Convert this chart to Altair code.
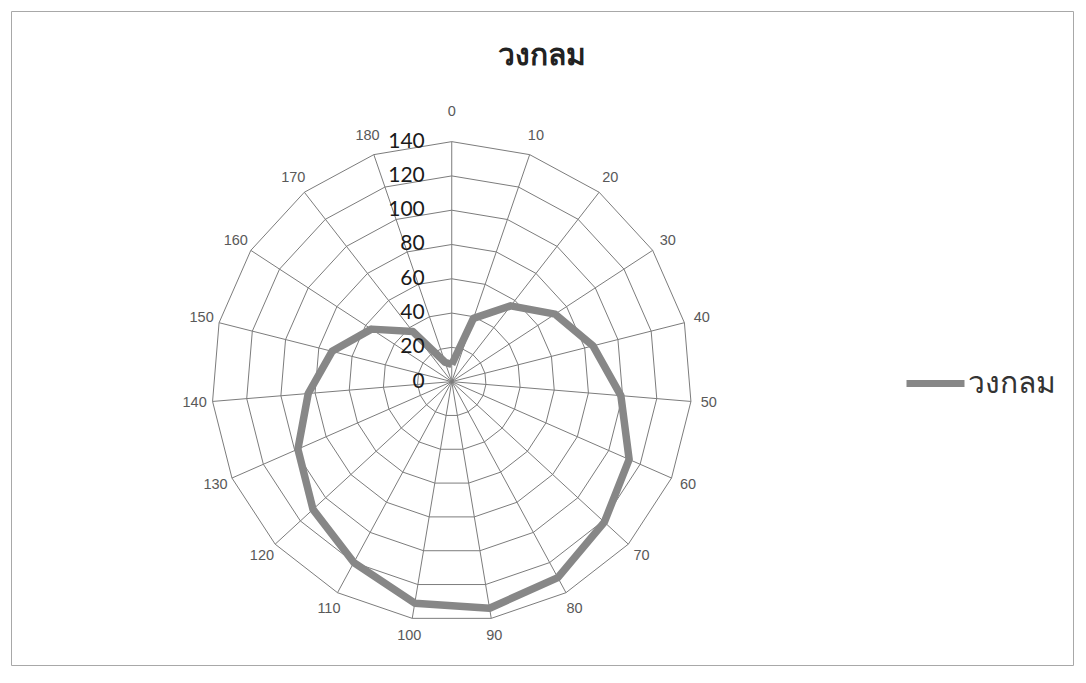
import altair as alt
import pandas as pd

# ---- data ----
categories = ["0", "10", "20", "30", "40", "50", "60", "70", "80", "90",
              "100", "110", "120", "130", "140", "150", "160", "170", "180"]
values = [10, 39, 56, 72, 85, 99, 113, 121, 130, 134,
          131, 120, 110, 98, 84, 72, 56, 37, 12]
ring_levels = [0, 20, 40, 60, 80, 100, 120, 140]
series_name = "วงกลม"
title_text = "วงกลม"

N = len(categories)
R_MAX = ring_levels[-1]

series_df = pd.DataFrame({
    "idx": list(range(N)) + [N],
    "value": values + [values[0]],
    "series": [series_name] * (N + 1),
})
grid_df = pd.DataFrame([{"level": l, "idx": i} for l in ring_levels[1:] for i in range(N + 1)])
spoke_df = pd.DataFrame({"idx": list(range(N)), "r": [R_MAX] * N})
label_df = pd.DataFrame({"idx": list(range(N)), "label": categories})
radial_df = pd.DataFrame({"level": ring_levels, "text": [str(l) for l in ring_levels]})

ANG = f"datum.idx * 2 * PI / {N}"

W, H = 1062, 654
x_scale = alt.Scale(domain=[-257.1, 362.4], nice=False, zero=False)
y_scale = alt.Scale(domain=[-165.3, 216.2], nice=False, zero=False)


def X(f):
    return alt.X(f"{f}:Q", scale=x_scale, axis=None)


def Y(f):
    return alt.Y(f"{f}:Q", scale=y_scale, axis=None)


GRID = "#7c7c7c"

rings = (
    alt.Chart(grid_df)
    .transform_calculate(a=ANG)
    .transform_calculate(x="datum.level * sin(datum.a)")
    .transform_calculate(y="datum.level * cos(datum.a)")
    .mark_line(color=GRID, strokeWidth=1)
    .encode(x=X("x"), y=Y("y"), detail="level:N", order="idx:Q")
)

spokes = (
    alt.Chart(spoke_df)
    .transform_calculate(a=ANG)
    .transform_calculate(x0="0")
    .transform_calculate(y0="0")
    .transform_calculate(x="datum.r * sin(datum.a)")
    .transform_calculate(y="datum.r * cos(datum.a)")
    .mark_rule(color=GRID, strokeWidth=1)
    .encode(x=X("x0"), y=Y("y0"), x2="x:Q", y2="y:Q")
)

series_line = (
    alt.Chart(series_df)
    .transform_calculate(a=ANG)
    .transform_calculate(x="datum.value * sin(datum.a)")
    .transform_calculate(y="datum.value * cos(datum.a)")
    .mark_line(strokeWidth=7.5, strokeJoin="round")
    .encode(
        x=X("x"), y=Y("y"), order="idx:Q",
        color=alt.Color(
            "series:N",
            scale=alt.Scale(range=["#878787"]),
            legend=alt.Legend(
                title=None, orient="none", legendX=892, legendY=340,
                symbolType="stroke", symbolStrokeWidth=7, symbolSize=3364,
                labelFontSize=30, labelFont="Noto Sans", labelColor="#333333",
                labelOffset=0, padding=0,
            ),
        ),
    )
)

labels = (
    alt.Chart(label_df)
    .transform_calculate(a=ANG)
    .transform_calculate(rl=f"{R_MAX} + 10.5 + 7 * pow(max(cos(datum.a), 0), 40)")
    .transform_calculate(x="datum.rl * sin(datum.a)")
    .transform_calculate(y="datum.rl * cos(datum.a)")
    .mark_text(font="Liberation Sans", fontSize=14.5, color="#595959",
               align="center", baseline="middle")
    .encode(x=X("x"), y=Y("y"), text="label:N")
)

radial = (
    alt.Chart(radial_df)
    .transform_calculate(x0="0")
    .mark_text(font="Lato", fontSize=21, color="#1a1a1a",
               align="right", baseline="middle", dx=-27)
    .encode(x=X("x0"), y=Y("level"), text="text:N")
)

chart = (
    alt.layer(rings, spokes, series_line, labels, radial)
    .properties(
        width=W, height=H,
        title=alt.TitleParams(
            title_text, anchor="middle", fontSize=30, font="Noto Sans",
            fontWeight="bold", color="#222222", offset=-84, baseline="alphabetic",
        ),
        autosize=alt.AutoSizeParams(type="none"),
        padding=3,
    )
    .configure_view(stroke="#a8a8a8", strokeWidth=1)
)

chart.save("out.html", embed_options={"renderer": "svg", "actions": False})
